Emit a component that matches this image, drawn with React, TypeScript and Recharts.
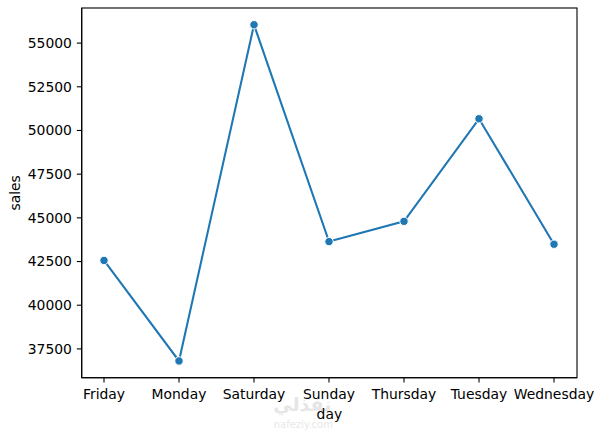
import React from 'react';
import { LineChart, Line, XAxis, YAxis, Label, usePlotArea } from 'recharts';

// seaborn lineplot: daily sales totals
const days = ['Friday', 'Monday', 'Saturday', 'Sunday', 'Thursday', 'Tuesday', 'Wednesday'];
const sales = [42560, 36810, 56050, 43640, 44800, 50670, 43490];
const salesTicks = [37500, 40000, 42500, 45000, 47500, 50000, 52500, 55000];

const data = days.map((day, i) => ({ day, sales: sales[i] }));

const FONT = 'DejaVu Sans, sans-serif';
const BLUE = '#1f77b4';
const tickStyle = { fill: '#000', fontSize: 13.9, fontFamily: FONT };

// matplotlib-style box round the plot area
const Frame = () => {
  const area = usePlotArea();
  if (!area) return null;
  return (
    <rect x={area.x} y={area.y} width={area.width} height={area.height}
      fill="none" stroke="#000" strokeWidth={1.1} />
  );
};

const YLabel = ({ viewBox }: any) => {
  const cy = viewBox.y + viewBox.height / 2;
  return (
    <text x={15} y={cy} transform={`rotate(-90 15 ${cy})`} textAnchor="middle"
      dominantBaseline="central" fontSize={13.9} fontFamily={FONT} fill="#000">
      sales
    </text>
  );
};

const XLabel = ({ viewBox }: any) => {
  const cx = viewBox.x + viewBox.width / 2;
  return (
    <g>
      <text x={cx - 27} y={404} textAnchor="middle" dominantBaseline="central"
        fontSize={19} fontWeight="bold" fontFamily={FONT} fill="#e6e6e6">
        نفذلي
      </text>
      <text x={cx - 26} y={424} textAnchor="middle" dominantBaseline="central"
        fontSize={10} fontFamily={FONT} fill="#e8e8e8">
        nafezly.com
      </text>
      <text x={cx} y={414} textAnchor="middle" dominantBaseline="central"
        fontSize={13.9} fontFamily={FONT} fill="#000">
        day
      </text>
    </g>
  );
};

export default function App() {
  return (
    <div style={{ width: 604, height: 431, background: '#fff' }}>
      <style>{'body{margin:0}'}</style>
      <LineChart width={604} height={431} data={data}
        margin={{ top: 8, right: 27, bottom: 0, left: 0 }}>
        <XAxis dataKey="day" height={53.3} padding={{ left: 22.3, right: 23 }}
          tick={tickStyle} tickSize={4.86} tickMargin={6.5}
          tickLine={{ stroke: '#000', strokeWidth: 1.1 }}
          axisLine={{ stroke: '#000', strokeWidth: 1.1 }} interval={0}>
          <Label content={<XLabel />} />
        </XAxis>
        <YAxis width={81.7} domain={[35852, 57009]} ticks={salesTicks}
          allowDataOverflow tick={tickStyle} tickSize={4.86} tickMargin={4.86}
          tickLine={{ stroke: '#000', strokeWidth: 1.1 }}
          axisLine={{ stroke: '#000', strokeWidth: 1.1 }}>
          <Label content={<YLabel />} />
        </YAxis>
        <Line dataKey="sales" type="linear" stroke={BLUE} strokeWidth={2.08}
          dot={{ r: 4.2, fill: BLUE, stroke: '#fff', strokeWidth: 1 }}
          activeDot={false} isAnimationActive={false} />
        <Frame />
      </LineChart>
    </div>
  );
}
